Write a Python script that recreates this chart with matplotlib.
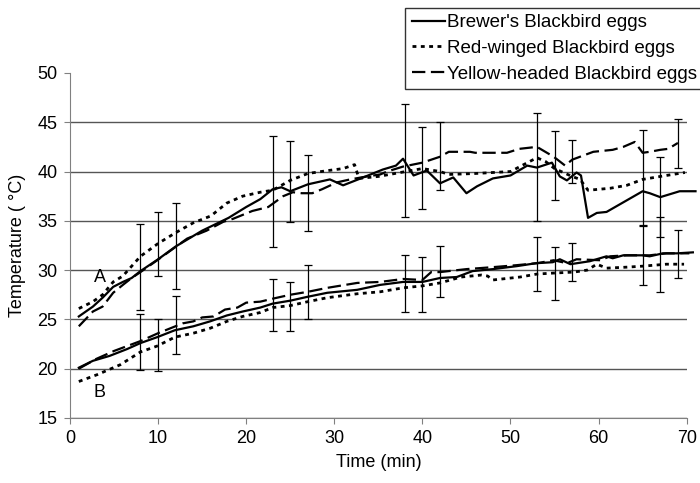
import matplotlib.pyplot as plt
import numpy as np

plt.rcParams['font.family'] = ['Liberation Sans', 'DejaVu Sans']

# Upper group (A)
brewer_a_t = [1, 2.6, 3.7, 4.9, 6, 7, 8, 10, 12, 15, 18, 20, 21.6, 23, 24, 25, 27, 29.5, 31, 33,
              35.5, 37, 37.8, 39, 40.5, 42, 43.5, 45, 46.2, 48, 50, 51.9, 53, 54.7, 55.6, 56.4,
              57.5, 58, 58.8, 59.8, 60.9, 65, 65.8, 67, 68.1, 69.2, 71]
brewer_a = [25.3, 26.3, 27.2, 28.3, 28.8, 29.2, 29.9, 31.1, 32.4, 34.0, 35.3, 36.4, 37.2, 38.2, 38.4,
            38.0, 38.7, 39.2, 38.6, 39.3, 40.2, 40.6, 41.3, 39.6, 40.1, 38.8, 39.4, 37.8, 38.5, 39.3,
            39.6, 40.6, 40.4, 40.9, 39.5, 39.1, 39.9, 39.6, 35.3, 35.8, 35.9, 38.0, 37.8, 37.4, 37.7,
            38.0, 38.0]

redwing_a_t = [1, 2.6, 3.7, 4.9, 6, 8, 10, 12, 14, 16, 17.8, 19.6, 21.6, 23, 25, 27, 29.3, 31, 32.3,
               32.8, 35, 37.5, 40, 42, 43, 46, 50, 51.5, 53, 54, 55, 56, 57, 57.9, 58.8, 61.3, 63.2,
               65, 67, 69.8]
redwing_a = [26.1, 26.8, 27.5, 28.8, 29.4, 31.4, 32.7, 33.8, 34.8, 35.5, 36.8, 37.5, 37.9, 38.1, 39.1,
             39.8, 40.1, 40.3, 40.7, 39.3, 39.5, 39.9, 40.3, 40.0, 39.7, 39.8, 40.0, 40.7, 41.4, 41.0,
             40.3, 39.9, 39.5, 39.2, 38.1, 38.3, 38.6, 39.2, 39.5, 39.9]

yellow_a_t = [1, 2.6, 3.7, 4.9, 6, 7, 8, 9.9, 13.3, 15.5, 17.4, 18.5, 20.7, 22.5, 24.2, 25.3, 26.3,
              27.5, 28.6, 30.3, 31.8, 33.7, 35.2, 36, 37.8, 40, 42, 43, 45.4, 46, 49.6, 51, 53, 54.9,
              56.2, 57, 59.4, 61.6, 62.8, 64.1, 65, 65.8, 67, 67.9, 69]
yellow_a = [24.3, 25.8, 26.3, 27.7, 28.5, 29.2, 29.8, 31.0, 33.2, 34.0, 34.9, 35.2, 36.0, 36.4, 37.5,
            37.9, 37.8, 37.8, 38.2, 38.9, 39.2, 39.5, 39.7, 40.0, 40.5, 40.9, 41.5, 42.0, 42.0, 41.9,
            41.9, 42.3, 42.5, 41.5, 40.6, 41.2, 42.0, 42.2, 42.5, 43.0, 41.9, 42.0, 42.2, 42.3, 42.9]

# Lower group (B)
brewer_b_t = [1, 2.6, 4.5, 6.5, 8, 9.9, 11.9, 14, 15.9, 17.8, 19.6, 21.6, 23, 25, 27, 29.2, 32.6,
              35.2, 37.8, 40, 42, 43.9, 45.7, 48, 50.7, 52.9, 54.8, 55.6, 56.8, 59, 60.9, 61.6, 62.8,
              65, 65.8, 67.3, 68.9, 70.7]
brewer_b = [20.1, 20.8, 21.3, 22.0, 22.6, 23.2, 23.9, 24.3, 24.8, 25.4, 25.8, 26.2, 26.6, 26.9, 27.3,
            27.7, 28.0, 28.5, 28.8, 28.8, 29.2, 29.3, 29.9, 30.1, 30.4, 30.7, 30.8, 31.1, 30.6, 30.9,
            31.4, 31.2, 31.5, 31.5, 31.4, 31.7, 31.7, 31.8]

redwing_b_t = [1, 3.1, 5.7, 8, 9.9, 11.9, 14, 15.9, 17.8, 19.6, 21.6, 23, 25, 27, 29.2, 32.6, 35.2,
               37.8, 40, 42, 44.4, 46.7, 47.4, 48, 51.1, 53, 54.9, 57.2, 58.7, 59.8, 60.9, 63.2, 65,
               67.7, 69.7]
redwing_b = [18.7, 19.4, 20.4, 21.7, 22.3, 23.2, 23.6, 24.1, 24.8, 25.3, 25.7, 26.2, 26.4, 26.8, 27.2,
             27.6, 27.8, 28.2, 28.4, 28.7, 29.3, 29.5, 29.4, 29.0, 29.3, 29.6, 29.7, 29.8, 30.0, 30.6,
             30.2, 30.3, 30.4, 30.6, 30.6]

yellow_b_t = [1, 3, 5, 8, 10, 12.8, 14, 15, 16.3, 17.6, 19, 20, 21.6, 23, 25, 27, 29.2, 32.6, 35.2,
              37.8, 40, 41, 42, 45, 48, 50.7, 53, 54.9, 56.4, 57.5, 60.2, 61.3, 63.2, 65.8, 67.7, 70.3]
yellow_b = [20.0, 21.0, 21.8, 22.8, 23.6, 24.6, 24.8, 25.2, 25.3, 26.0, 26.2, 26.7, 26.8, 27.1, 27.5,
            27.8, 28.2, 28.7, 28.8, 29.1, 29.0, 29.8, 29.8, 30.1, 30.3, 30.5, 30.7, 31.0, 30.7, 31.1,
            31.0, 31.4, 31.5, 31.5, 31.7, 31.7]

# Error bars (low / high ends)
err_t = [8, 10, 12, 23, 25, 27, 38, 40, 42, 53, 55, 57, 65, 67, 69]
err_a_lo = [26.0, 29.4, 28.1, 32.3, 34.9, 34.0, 35.4, 36.2, 38.1, 35.0, 37.1, 38.8, 34.6, 33.4, 40.4]
err_a_hi = [34.7, 35.9, 36.8, 43.6, 43.1, 41.7, 46.8, 44.5, 45.0, 45.9, 44.1, 43.2, 44.2, 41.5, 45.3]
err_b_lo = [19.9, 19.8, 21.5, 23.8, 23.8, 25.0, 25.8, 25.8, 27.3, 27.9, 27.0, 28.9, 28.5, 27.8, 29.2]
err_b_hi = [25.5, 25.0, 27.4, 29.1, 28.8, 30.5, 31.5, 31.3, 32.4, 33.4, 32.3, 32.8, 34.5, 35.4, 34.1]

fig = plt.figure(figsize=(7, 4.83), dpi=100)
ax = fig.add_axes([0.1, 0.1346, 0.881, 0.7144])

solid = dict(color='black', lw=1.6, linestyle='-', clip_on=False)
dotted = dict(color='black', lw=2.0, linestyle=(0, (1.4, 1.6)), clip_on=False)
dashed = dict(color='black', lw=1.6, linestyle=(0, (6, 2.5)), clip_on=False)

ax.plot(brewer_a_t, brewer_a, label="Brewer's Blackbird eggs", **solid)
ax.plot(redwing_a_t, redwing_a, label='Red-winged Blackbird eggs', **dotted)
ax.plot(yellow_a_t, yellow_a, label='Yellow-headed Blackbird eggs', **dashed)
ax.plot(brewer_b_t, brewer_b, **solid)
ax.plot(redwing_b_t, redwing_b, **dotted)
ax.plot(yellow_b_t, yellow_b, **dashed)

for lo, hi in [(err_a_lo, err_a_hi), (err_b_lo, err_b_hi)]:
    lo = np.array(lo)
    hi = np.array(hi)
    ax.errorbar(err_t, (lo + hi) / 2, yerr=(hi - lo) / 2, fmt='none',
                ecolor='black', elinewidth=0.9, capsize=3, capthick=0.9)

ax.text(3.4, 29.2, 'A', fontsize=13, ha='center', va='center')
ax.text(3.4, 17.6, 'B', fontsize=13, ha='center', va='center')

ax.set_xlim(0, 70)
ax.set_ylim(15, 50)
ax.set_xticks(range(0, 71, 10))
ax.set_yticks(range(15, 51, 5))
ax.tick_params(labelsize=13, direction='out', length=4, color='#808080', pad=5)
ax.yaxis.grid(True, color='#555555', lw=1)
ax.get_ygridlines()[-1].set_visible(False)
ax.set_axisbelow(True)
for s in ['top', 'right']:
    ax.spines[s].set_visible(False)
for s in ['left', 'bottom']:
    ax.spines[s].set_color('#808080')

ax.set_xlabel('Time (min)', fontsize=13, labelpad=5)
ax.set_ylabel('Temperature ( °C)', fontsize=13, labelpad=8)

leg = fig.legend(loc='upper left', bbox_to_anchor=(0.579, 0.984), fontsize=13.5,
                 frameon=True, fancybox=False, handlelength=1.75, borderaxespad=0,
                 labelspacing=0.45, handletextpad=0.15, borderpad=0.35)
leg.get_frame().set_edgecolor('black')
leg.get_frame().set_linewidth(1)

fig.savefig('out.png', dpi=100)
